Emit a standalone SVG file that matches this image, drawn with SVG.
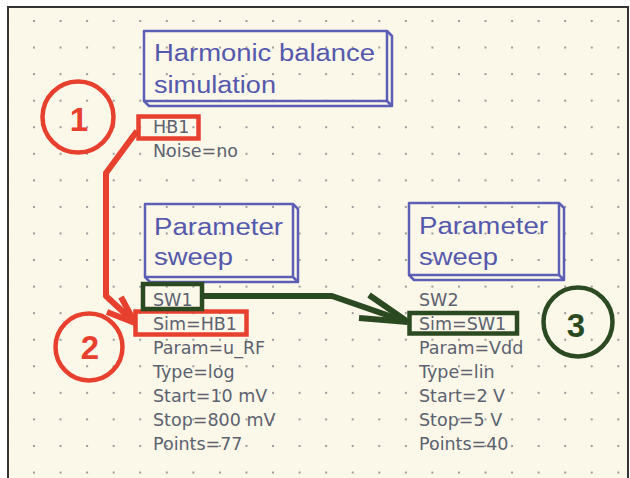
<svg xmlns="http://www.w3.org/2000/svg" width="630" height="478" viewBox="0 0 630 478">
  <defs>
    <pattern id="grid" patternUnits="userSpaceOnUse" x="33" y="20" width="26.56" height="26.56">
      <rect x="0" y="0" width="2" height="2" fill="#9c9c9c"/>
    </pattern>
    <style>
      .box { fill: none; stroke: #5b5fb5; stroke-width: 2.5; stroke-linejoin: round; }
      .title { font-family: "Liberation Sans", Arial, sans-serif; font-size: 23px; fill: #5559ad; }
      .prop { font-family: "DejaVu Sans", "Liberation Sans", sans-serif; font-size: 17.5px; fill: #5c6270; }
      .red { stroke: #e8402f; fill: none; }
      .green { stroke: #2c4a22; fill: none; }
      .num { font-family: "Liberation Sans", Arial, sans-serif; font-size: 33px; font-weight: bold; text-anchor: middle; }
    </style>
  </defs>

  <rect x="0" y="0" width="630" height="478" fill="#ffffff"/>
  <rect x="8" y="7" width="620" height="471" fill="#fbf7e9"/>
  <rect x="8" y="7" width="620" height="471" fill="url(#grid)"/>
  <path d="M8,478 V7 H628 V478" fill="none" stroke="#333333" stroke-width="2"/>

  <g id="hb-node">
    <rect class="box" x="144" y="31" width="243" height="70"/>
    <path class="box" d="M387,31 L392,36 V106 H149 L144,101 M387,101 L392,106"/>
    <text class="title" x="154" y="61" textLength="221" lengthAdjust="spacingAndGlyphs">Harmonic balance</text>
    <text class="title" x="154" y="93" textLength="122" lengthAdjust="spacingAndGlyphs">simulation</text>
    <text class="prop" x="153" y="133">HB1</text>
    <text class="prop" x="153" y="157">Noise=no</text>
  </g>

  <g id="sweep1-node">
    <rect class="box" x="145" y="204" width="148" height="73"/>
    <path class="box" d="M293,204 L298,209 V282 H150 L145,277 M293,277 L298,282"/>
    <text class="title" x="154" y="235" textLength="129" lengthAdjust="spacingAndGlyphs">Parameter</text>
    <text class="title" x="154" y="265" textLength="79" lengthAdjust="spacingAndGlyphs">sweep</text>
    <text class="prop" x="153" y="306">SW1</text>
    <text class="prop" x="153" y="330">Sim=HB1</text>
    <text class="prop" x="153" y="354">Param=u_RF</text>
    <text class="prop" x="153" y="378">Type=log</text>
    <text class="prop" x="153" y="402">Start=10 mV</text>
    <text class="prop" x="153" y="426">Stop=800 mV</text>
    <text class="prop" x="153" y="450">Points=77</text>
  </g>

  <g id="sweep2-node">
    <rect class="box" x="409" y="203" width="150" height="72"/>
    <path class="box" d="M559,203 L564,208 V280 H414 L409,275 M559,275 L564,280"/>
    <text class="title" x="419" y="234" textLength="129" lengthAdjust="spacingAndGlyphs">Parameter</text>
    <text class="title" x="419" y="265" textLength="79" lengthAdjust="spacingAndGlyphs">sweep</text>
    <text class="prop" x="419" y="306">SW2</text>
    <text class="prop" x="419" y="330">Sim=SW1</text>
    <text class="prop" x="419" y="354">Param=Vdd</text>
    <text class="prop" x="419" y="378">Type=lin</text>
    <text class="prop" x="419" y="402">Start=2 V</text>
    <text class="prop" x="419" y="426">Stop=5 V</text>
    <text class="prop" x="419" y="450">Points=40</text>
  </g>

  <g id="highlights">
    <rect class="red" x="138.5" y="116.5" width="60" height="22" stroke-width="4.5"/>
    <rect class="red" x="135.5" y="311.5" width="111" height="23" stroke-width="4.5"/>
    <rect class="green" x="143" y="284" width="59" height="25" stroke-width="4.5"/>
    <rect class="green" x="409.5" y="313" width="107.5" height="20.5" stroke-width="4.5"/>
  </g>

  <g id="markers">
    <g id="mark1">
      <circle class="red" cx="78" cy="117" r="35.5" stroke-width="4.5"/>
      <text class="num" x="79" y="131" fill="#e8402f">1</text>
    </g>
    <g id="mark2">
      <circle class="red" cx="89" cy="347" r="33.5" stroke-width="4.5"/>
      <text class="num" x="90" y="358.5" fill="#e8402f">2</text>
    </g>
    <g id="mark3">
      <circle class="green" cx="578" cy="322" r="34.5" stroke-width="4.5"/>
      <text class="num" x="576" y="336.5" fill="#2c4a22">3</text>
    </g>
  </g>

  <g id="connectors" stroke-linecap="butt" stroke-linejoin="round" fill="none">
    <path class="red" stroke-width="6" d="M137,131 L106,173 V296 L134,322"/>
    <path class="red" stroke-width="6" d="M121,297 L135,323 M107,312 L135,323"/>
    <path class="green" stroke-width="6" d="M204,296 H332 L407,322"/>
    <path class="green" stroke-width="6" d="M369,295 L408,322 M359,318 L408,322"/>
  </g>
</svg>
